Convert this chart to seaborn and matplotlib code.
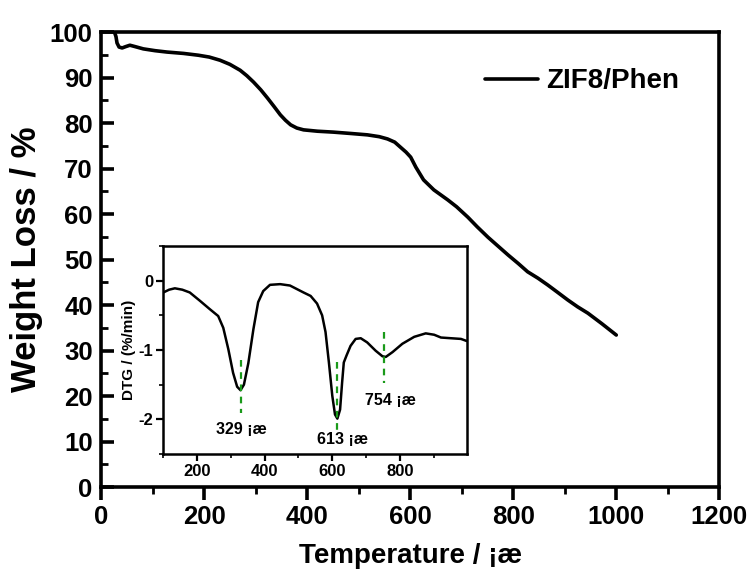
import numpy as np
import pandas as pd
import matplotlib
matplotlib.use("Agg")
import matplotlib.pyplot as plt
import seaborn as sns
from matplotlib.ticker import MultipleLocator

# TGA curve (temperature in deg C, remaining weight in %)
tga_temp = [26, 29, 31, 35, 41, 48, 56, 66, 82, 105, 128, 160, 189, 210, 231, 250, 270,
            283, 296, 310, 323, 336, 348, 358, 368, 380, 393, 420, 451, 485, 517, 540,
            556, 570, 581, 592, 601, 611, 626, 646, 673, 690, 712, 730, 751, 770, 790,
            810, 828, 848, 867, 886, 906, 925, 945, 972, 1000]
tga_weight = [100, 99.0, 97.6, 96.7, 96.5, 96.8, 97.1, 96.8, 96.3, 95.9, 95.6, 95.3,
              94.9, 94.5, 93.8, 92.9, 91.6, 90.4, 89.0, 87.3, 85.5, 83.6, 81.8, 80.6,
              79.6, 78.9, 78.5, 78.2, 78.0, 77.7, 77.4, 77.0, 76.5, 75.8, 74.7, 73.6,
              72.5, 70.3, 67.5, 65.3, 63.1, 61.6, 59.3, 57.2, 54.9, 53.0, 51.0, 49.1,
              47.3, 45.9, 44.4, 42.8, 41.1, 39.6, 38.2, 35.9, 33.4]

# DTG curve (temperature in deg C, %/min)
dtg_temp = [101, 118, 135, 157, 179, 209, 238, 263, 278, 293, 307, 319, 329, 339, 352,
            367, 381, 396, 416, 446, 475, 515, 536, 555, 570, 580, 590, 600, 608, 615,
            623, 629, 634, 642, 654, 669, 684, 703, 728, 748, 758, 778, 807, 842, 876,
            901, 921, 950, 980, 997]
dtg_rate = [-0.17, -0.13, -0.11, -0.13, -0.17, -0.29, -0.41, -0.51, -0.68, -0.99, -1.33,
            -1.53, -1.58, -1.50, -1.19, -0.70, -0.31, -0.15, -0.06, -0.05, -0.07, -0.17,
            -0.22, -0.33, -0.50, -0.74, -1.18, -1.66, -1.93, -1.99, -1.86, -1.47, -1.18,
            -1.08, -0.94, -0.84, -0.83, -0.89, -1.01, -1.09, -1.10, -1.03, -0.91, -0.81,
            -0.76, -0.78, -0.82, -0.83, -0.84, -0.87]

# DTG peak markers: position, dashed span, label text and label anchor
peak_temps = [329, 613, 754]
peak_span_top = [-1.14, -1.18, -0.74]
peak_span_bottom = [-1.91, -2.19, -1.47]
peak_labels = ["329 ¡æ", "613 ¡æ", "754 ¡æ"]
peak_label_x = [330, 630, 773]
peak_label_y = [-2.14, -2.29, -1.73]

sns.set_style("ticks")
plt.rcParams["font.family"] = ["Liberation Sans", "DejaVu Sans"]
plt.rcParams["font.weight"] = "bold"
plt.rcParams["axes.unicode_minus"] = False
for key in ["text.color", "axes.labelcolor", "xtick.color", "ytick.color",
            "axes.edgecolor"]:
    plt.rcParams[key] = "black"

fig = plt.figure(figsize=(7.54, 5.72), dpi=100)
ax = fig.add_axes([0.134, 0.1486, 0.820, 0.7954])

tga = pd.DataFrame({"Temperature": tga_temp, "Weight": tga_weight, "Sample": "ZIF8/Phen"})
sns.lineplot(data=tga, x="Temperature", y="Weight", hue="Sample", palette=["black"],
             linewidth=2.6, ax=ax, legend=True)

ax.set_xlim(0, 1200)
ax.set_ylim(0, 100)
ax.xaxis.set_major_locator(MultipleLocator(200))
ax.xaxis.set_minor_locator(MultipleLocator(100))
ax.yaxis.set_major_locator(MultipleLocator(10))
ax.yaxis.set_minor_locator(MultipleLocator(5))
ax.tick_params(axis="x", which="major", direction="out", length=9, width=2.6,
               labelsize=18.5, pad=4)
ax.tick_params(axis="x", which="minor", direction="out", length=5, width=2.0)
ax.tick_params(axis="y", which="major", direction="in", length=9, width=2.6,
               labelsize=18.5, pad=6)
ax.tick_params(axis="y", which="minor", direction="in", length=5, width=2.0)
for lab in ax.get_xticklabels() + ax.get_yticklabels():
    lab.set_fontweight("bold")
for sp in ax.spines.values():
    sp.set_visible(True)
    sp.set_linewidth(2.6)
    sp.set_color("black")

ax.set_xlabel("Temperature / ¡æ", fontsize=20, fontweight="bold", labelpad=10)
ax.set_ylabel("Weight Loss / %", fontsize=25, fontweight="bold", labelpad=5)

leg = ax.legend(loc="upper right", bbox_to_anchor=(0.975, 0.975), frameon=False,
                handlelength=1.9, handletextpad=0.3,
                prop={"weight": "bold", "size": 20})
for line in leg.get_lines():
    line.set_linewidth(2.6)

# Inset: derivative curve
ins = fig.add_axes([0.2162, 0.2063, 0.4032, 0.3636])
dtg = pd.DataFrame({"Temperature": dtg_temp, "DTG": dtg_rate})
sns.lineplot(data=dtg, x="Temperature", y="DTG", color="black", linewidth=1.8, ax=ins)
ins.set_xlim(100, 998)
ins.set_ylim(-2.5, 0.5)
ins.xaxis.set_major_locator(MultipleLocator(200))
ins.xaxis.set_minor_locator(MultipleLocator(100))
ins.yaxis.set_major_locator(MultipleLocator(1))
ins.yaxis.set_minor_locator(MultipleLocator(0.5))
ins.tick_params(axis="both", which="major", direction="out", length=5, width=1.6,
                labelsize=12, pad=2)
ins.tick_params(axis="both", which="minor", direction="out", length=3, width=1.2)
for lab in ins.get_xticklabels() + ins.get_yticklabels():
    lab.set_fontweight("bold")
for sp in ins.spines.values():
    sp.set_visible(True)
    sp.set_linewidth(1.8)
    sp.set_color("black")
ins.set_xlabel("")
ins.set_ylabel("DTG / (%/min)", fontsize=11, fontweight="bold", labelpad=2)

for t, y0, y1, txt, lx, ly in zip(peak_temps, peak_span_top, peak_span_bottom,
                                  peak_labels, peak_label_x, peak_label_y):
    ins.plot([t, t], [y0, y1], color="#1a9a1a", linestyle=(0, (3, 2.5)), linewidth=1.6)
    ins.text(lx, ly, txt, ha="center", va="center", fontsize=11.5, fontweight="bold")

fig.savefig("out.png", dpi=100)
